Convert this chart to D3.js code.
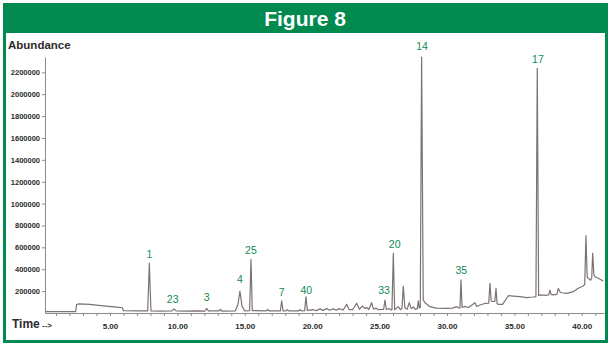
<!DOCTYPE html>
<html>
<head>
<meta charset="utf-8">
<script src="https://cdn.jsdelivr.net/npm/d3@7"></script>
<style>
body { margin: 0; background: #fff; }
svg { display: block; font-family: "Liberation Sans", Arial, sans-serif; }
.axis path, .axis line { stroke: #8c8c8c; stroke-width: 1; }
.axis text { font-weight: bold; fill: #2b2b2b; }
.peak-label { fill: #0f8c55; font-size: 10.5px; text-anchor: middle; }
</style>
</head>
<body>
<svg width="611" height="347"></svg>
<script>
//Chart values.
var yTicks = [200000, 400000, 600000, 800000, 1000000, 1200000, 1400000, 1600000, 1800000, 2000000, 2200000];
var xLabelTicks = [5, 10, 15, 20, 25, 30, 35, 40];
var xMinorTicks = d3.range(1, 42);
//Peak labels: name, retention time, abundance level where the label sits.
var peakNames = ['1', '23', '3', '4', '25', '7', '40', '33', '20', '14', '35', '17'];
var peakTimes = [7.92, 9.65, 12.17, 14.64, 15.46, 17.74, 19.56, 25.33, 26.12, 28.15, 31.06, 36.75];
var peakLabelLevels = [503000, 91000, 110000, 270000, 535000, 155000, 178000, 178000, 590000, 2404000, 361000, 2281000];
//Total ion chromatogram trace: [time (min), abundance].
var trace = [
	[0.18, 12000], [2.45, 12000], [2.53, 78000], [2.7, 84000], [3.5, 78000], [4.5, 66000], [5.5, 54000],
	[5.92, 48000], [6.0, 21000], [7.0, 19000], [7.8, 20000], [7.92, 455000], [8.04, 20000], [8.8, 17000],
	[9.6, 20000], [9.75, 38000], [9.9, 19000], [10.6, 17000], [11.4, 19000], [12.05, 18000], [12.17, 42000],
	[12.3, 19000], [13.1, 19000], [13.2, 34000], [13.3, 18000], [14.3, 20000], [14.5, 80000], [14.64, 200000],
	[14.8, 60000], [15.0, 20000], [15.36, 22000], [15.46, 490000], [15.56, 22000], [16.6, 19000], [16.7, 32000],
	[16.8, 19000], [17.64, 20000], [17.74, 112000], [17.84, 20000], [18.05, 19000], [18.15, 30000], [18.25, 20000],
	[19.0, 20000], [19.1, 30000], [19.2, 20000], [19.44, 22000], [19.54, 148000], [19.64, 24000], [20.08, 30000],
	[20.3, 22000], [20.58, 38000], [20.8, 24000], [21.07, 40000], [21.3, 25000], [21.57, 38000], [21.8, 25000],
	[22.0, 40000], [22.3, 27000], [22.56, 80000], [22.75, 30000], [23.0, 30000], [23.3, 88000], [23.5, 34000],
	[23.75, 64000], [23.9, 40000], [24.04, 50000], [24.2, 32000], [24.41, 94000], [24.55, 35000], [24.73, 45000],
	[24.9, 30000], [25.3, 32000], [25.4, 119000], [25.5, 32000], [25.72, 40000], [25.85, 28000], [25.92, 30000],
	[26.02, 545000], [26.12, 30000], [26.39, 58000], [26.55, 30000], [26.66, 40000], [26.76, 247000], [26.88, 45000],
	[27.05, 35000], [27.2, 94000], [27.35, 40000], [27.5, 55000], [27.65, 32000], [27.8, 40000], [27.87, 112000],
	[27.95, 45000], [28.02, 50000], [28.12, 2340000], [28.24, 120000], [28.37, 94000], [28.74, 58000], [29.2, 45000],
	[29.98, 43000], [30.4, 45000], [30.72, 58000], [30.9, 45000], [30.96, 46000], [31.04, 302000], [31.12, 50000],
	[31.3, 60000], [31.6, 50000], [32.08, 94000], [32.2, 60000], [32.45, 73000], [32.74, 85000], [32.82, 88000],
	[33.1, 90000], [33.19, 271000], [33.28, 110000], [33.39, 105000], [33.55, 105000], [33.64, 226000], [33.72, 85000],
	[33.8, 79000], [34.13, 79000], [34.55, 158000], [34.92, 155000], [35.42, 149000], [35.91, 140000], [36.4, 146000],
	[36.6, 150000], [36.7, 2237000], [36.8, 160000], [36.9, 165000], [37.4, 162000], [37.55, 165000], [37.64, 210000],
	[37.72, 170000], [37.89, 165000], [38.15, 170000], [38.26, 226000], [38.4, 190000], [38.51, 185000], [38.88, 180000],
	[39.37, 195000], [39.74, 226000], [40.11, 247000], [40.22, 260000], [40.31, 707000], [40.4, 330000], [40.48, 317000],
	[40.66, 300000], [40.74, 320000], [40.81, 546000], [40.9, 350000], [40.98, 332000], [41.22, 317000], [41.59, 292000]
];

var svg = d3.select('svg');
var green = '#008a50';

//Frame and title bar.
svg.append('rect')
	.attr('x', 4.5).attr('y', 4.5).attr('width', 602).attr('height', 337)
	.attr('fill', '#fff').attr('stroke', green).attr('stroke-width', 3);
svg.append('rect')
	.attr('x', 3).attr('y', 3).attr('width', 605).attr('height', 30)
	.attr('fill', green);
svg.append('text')
	.text('Figure 8')
	.attr('x', 305).attr('y', 26)
	.attr('text-anchor', 'middle')
	.style('font-size', '21px').style('font-weight', 'bold').style('fill', '#fff');

//Scales.
var xScale = d3.scaleLinear().domain([0.18, 41.65]).range([45, 604]);
var yScale = d3.scaleLinear().domain([0, 2340000]).range([313, 57]);

//Axes.
svg.append('g')
	.attr('class', 'axis')
	.attr('transform', 'translate(45,0)')
	.call(d3.axisLeft(yScale).tickValues(yTicks).tickSize(3).tickSizeOuter(0).tickPadding(2)
		.tickFormat(d3.format('d')))
	.selectAll('text').style('font-size', '7.5px');
var xAxis = svg.append('g')
	.attr('class', 'axis')
	.attr('transform', 'translate(0,313)')
	.call(d3.axisBottom(xScale).tickValues(xMinorTicks).tickSize(3).tickSizeOuter(0).tickPadding(7)
		.tickFormat(function(d) { return xLabelTicks.indexOf(d) >= 0 ? d3.format('.2f')(d) : ''; }));
xAxis.selectAll('text').style('font-size', '8px');

//Trace.
var line = d3.line()
	.x(function(d) { return xScale(d[0]); })
	.y(function(d) { return yScale(d[1]); });
svg.append('path')
	.datum(trace)
	.attr('d', line)
	.attr('fill', 'none')
	.attr('stroke', '#7d7272')
	.attr('stroke-width', 1.2)
	.attr('stroke-linejoin', 'round');

//Peak labels.
svg.selectAll('.peak-label')
	.data(peakNames)
	.enter().append('text')
	.attr('class', 'peak-label')
	.attr('x', function(d, i) { return xScale(peakTimes[i]); })
	.attr('y', function(d, i) { return yScale(peakLabelLevels[i]); })
	.text(function(d) { return d; });

//Axis titles.
svg.append('text')
	.text('Abundance')
	.attr('x', 8).attr('y', 49)
	.style('font-size', '11.5px').style('font-weight', 'bold').style('fill', '#2b2b2b');
var timeLabel = svg.append('text')
	.attr('x', 12).attr('y', 327.5)
	.style('font-weight', 'bold').style('fill', '#2b2b2b');
timeLabel.append('tspan').text('Time').style('font-size', '12px');
timeLabel.append('tspan').text(' -->').style('font-size', '8px');
</script>
</body>
</html>
